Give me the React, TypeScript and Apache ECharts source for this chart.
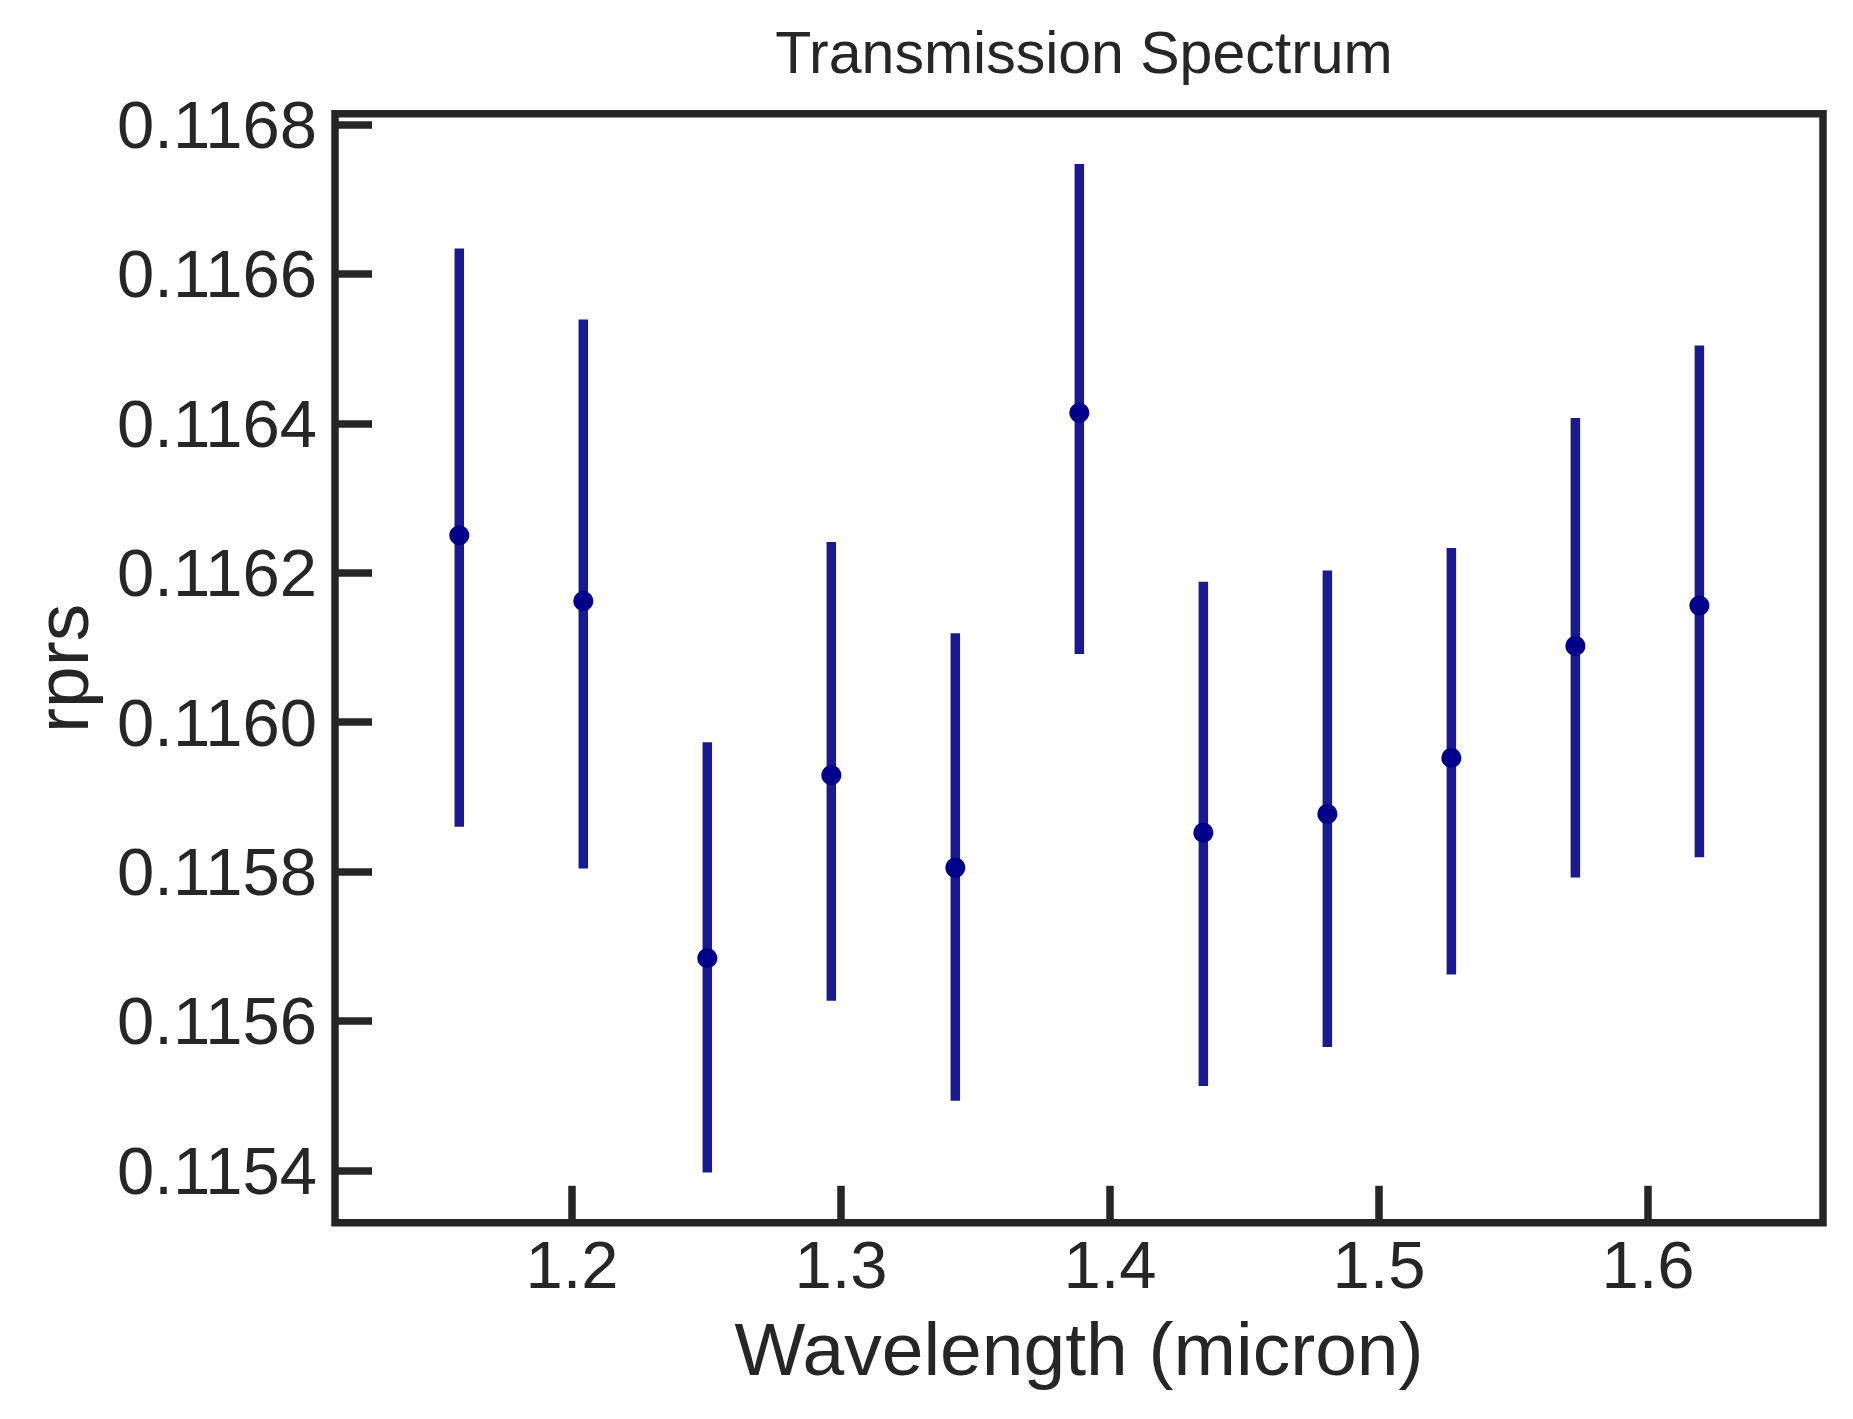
import React, { useEffect, useRef } from "react";
import * as echarts from "echarts";

// Wavelength bin centres (micron)
const wavelength = [1.1581, 1.2042, 1.2503, 1.2964, 1.3425, 1.3886, 1.4347, 1.4808, 1.5269, 1.573, 1.6191];
// Planet-to-star radius ratio per bin
const rprs = [0.11625, 0.116162, 0.115684, 0.115929, 0.115805, 0.116414, 0.115852, 0.115877, 0.115952, 0.116102, 0.116156];
// Upper / lower uncertainties
const errUpper = [0.000384, 0.000377, 0.000289, 0.000312, 0.000314, 0.000333, 0.000336, 0.000326, 0.000281, 0.000305, 0.000348];
const errLower = [0.00039, 0.000358, 0.000287, 0.000302, 0.000312, 0.000323, 0.000339, 0.000312, 0.00029, 0.00031, 0.000337];

// Tick positions
const xTicks = [1.2, 1.3, 1.4, 1.5, 1.6];
const yTicks = [0.1154, 0.1156, 0.1158, 0.116, 0.1162, 0.1164, 0.1166, 0.1168];

const xRange = [1.1119, 1.66506];
const yRange = [0.11532973, 0.1168143];

const INK = "#262626";
const FONT = 'Arial, "Liberation Sans", sans-serif';

export default function App() {
  const ref = useRef<HTMLDivElement>(null);

  useEffect(() => {
    if (!ref.current) return;
    const chart = echarts.init(ref.current, null, { renderer: "svg" });

    const barData = wavelength.map((w, i) => [w, rprs[i], rprs[i] - errLower[i], rprs[i] + errUpper[i]]);
    const pointData = wavelength.map((w, i) => [w, rprs[i]]);

    chart.setOption({
      animation: false,
      backgroundColor: "#ffffff",
      title: {
        text: "Transmission Spectrum",
        left: 1079,
        top: 18,
        textAlign: "center",
        textStyle: { fontFamily: FONT, fontSize: 59, fontWeight: "normal", color: INK },
      },
      grid: {
        left: 335,
        right: 30,
        top: 113.8,
        bottom: 196.2,
        show: true,
        borderColor: INK,
        borderWidth: 7.5,
        backgroundColor: "#ffffff",
      },
      xAxis: {
        type: "value",
        min: xRange[0],
        max: xRange[1],
        name: "Wavelength (micron)",
        nameLocation: "middle",
        nameGap: 89,
        nameTextStyle: { fontFamily: FONT, fontSize: 75, color: INK },
        axisLine: { show: false },
        splitLine: { show: false },
        axisTick: {
          show: true,
          inside: true,
          length: 37,
          customValues: xTicks,
          lineStyle: { color: INK, width: 7.5 },
        },
        axisLabel: {
          customValues: xTicks,
          margin: 8,
          fontFamily: FONT,
          fontSize: 67,
          color: INK,
          formatter: (v: number) => v.toFixed(1),
        },
      },
      yAxis: {
        type: "value",
        min: yRange[0],
        max: yRange[1],
        name: "rprs",
        nameLocation: "middle",
        nameGap: 236,
        nameTextStyle: { fontFamily: FONT, fontSize: 75, color: INK },
        axisLine: { show: false },
        splitLine: { show: false },
        axisTick: {
          show: true,
          inside: true,
          length: 37,
          customValues: yTicks,
          lineStyle: { color: INK, width: 7.5 },
        },
        axisLabel: {
          customValues: yTicks,
          margin: 18,
          fontFamily: FONT,
          fontSize: 67,
          color: INK,
          formatter: (v: number) => v.toFixed(4),
        },
      },
      series: [
        {
          type: "custom",
          data: barData,
          encode: { x: 0, y: [1, 2, 3] },
          z: 2,
          renderItem: (params: any, api: any) => {
            const x = api.value(0);
            const lo = api.coord([x, api.value(2)]);
            const hi = api.coord([x, api.value(3)]);
            return {
              type: "line",
              shape: { x1: lo[0], y1: lo[1], x2: hi[0], y2: hi[1] },
              style: { stroke: "rgba(0,0,139,0.9)", lineWidth: 9.5, lineCap: "butt" },
            };
          },
        },
        {
          type: "scatter",
          data: pointData,
          symbol: "circle",
          symbolSize: 20,
          z: 3,
          itemStyle: { color: "#00008B", opacity: 1 },
        },
      ],
    });

    return () => chart.dispose();
  }, []);

  return (
    <div
      ref={ref}
      style={{ position: "absolute", left: 0, top: 0, width: 1853, height: 1419 }}
    />
  );
}
